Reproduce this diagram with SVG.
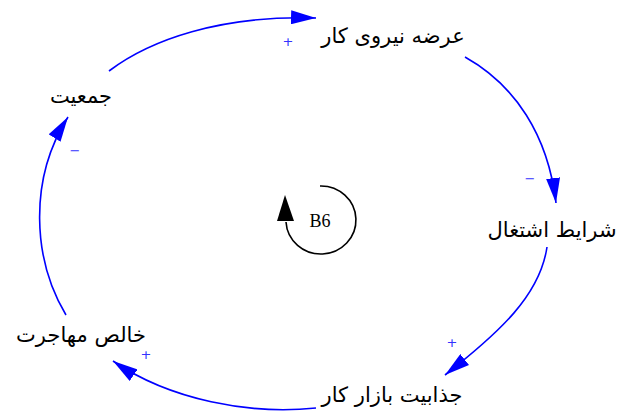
<svg xmlns="http://www.w3.org/2000/svg" width="617" height="414" viewBox="0 0 617 414">
<style>
.lbl{font-family:"DejaVu Sans","Noto Sans",sans-serif;font-size:21px;fill:#000;text-anchor:middle}
.lnk{fill:none;stroke:#0000ff;stroke-width:1.6;marker-end:url(#ah)}
.sg{font-family:"DejaVu Sans",sans-serif;font-size:13px;fill:#3333ff;text-anchor:middle}
</style>
<defs>
<marker id="ah" markerUnits="userSpaceOnUse" markerWidth="26" markerHeight="14" refX="25" refY="7" orient="auto">
<path d="M0,0 L25,7 L0,14 z" fill="#0000ff"/>
</marker>
</defs>
<rect width="617" height="414" fill="#fff"/>
<g id="connectors">
<path class="lnk" d="M109,71 C150,40 220,15 316,18"/>
<path class="lnk" d="M465,57 C515,85 548,135 556,203"/>
<path class="lnk" d="M547,247 C540,295 500,332 445,375"/>
<path class="lnk" d="M316,408 C250,415 170,400 113,361"/>
<path class="lnk" d="M66,315 C33,260 28,180 68,117"/>
<text class="sg" x="288" y="46">+</text>
<text class="sg" x="530" y="183">−</text>
<text class="sg" x="452" y="347">+</text>
<text class="sg" x="146" y="359">+</text>
<text class="sg" x="75" y="155">−</text>
</g>
<g id="n1"><text class="lbl" x="393" y="43" direction="rtl">عرضه نیروی کار</text></g>
<g id="n2"><text class="lbl" x="552" y="237" direction="rtl">شرایط اشتغال</text></g>
<g id="n3"><text class="lbl" x="392" y="402" direction="rtl">جذابیت بازار کار</text></g>
<g id="n4"><text class="lbl" x="81" y="342" direction="rtl">خالص مهاجرت</text></g>
<g id="n5"><text class="lbl" x="81" y="103" direction="rtl">جمعیت</text></g>
<g id="loop">
<path d="M320,186 A35,34 0 1 1 286,222" fill="none" stroke="#000" stroke-width="1.6"/>
<path d="M285,195 L277,221 L294,221 z" fill="#000"/>
<text x="320" y="227" font-family="Liberation Serif,serif" font-size="18" text-anchor="middle">B6</text>
</g>
</svg>
